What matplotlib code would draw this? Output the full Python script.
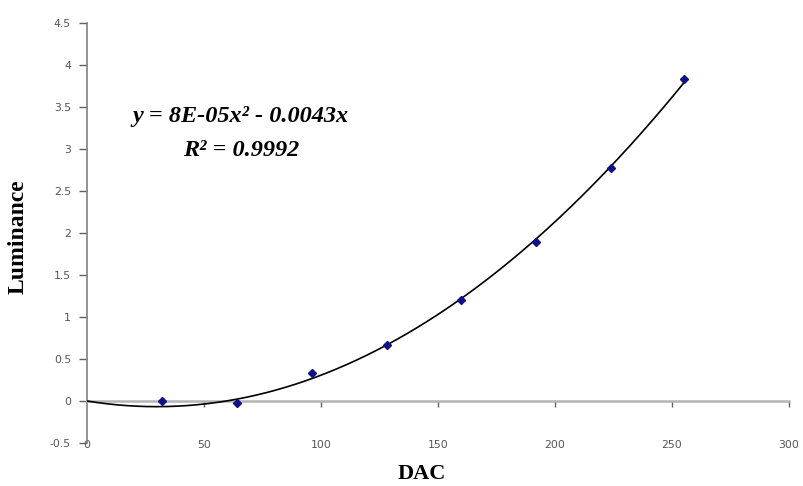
import numpy as np
import matplotlib
matplotlib.use("Agg")
import matplotlib.pyplot as plt
from matplotlib.ticker import FuncFormatter

# measured points (DAC vs luminance)
dac = [32, 64, 96, 128, 160, 192, 224, 255]
luminance = [0.0, -0.02, 0.33, 0.67, 1.2, 1.89, 2.77, 3.83]

x_ticks = [0, 50, 100, 150, 200, 250, 300]
y_ticks = [-0.5, 0, 0.5, 1, 1.5, 2, 2.5, 3, 3.5, 4, 4.5]

eq_text = "y = 8E-05x\u00b2 - 0.0043x"
r2_text = "R\u00b2 = 0.9992"

# 2nd order trendline forced through origin (like the excel one)
xd = np.array(dac, dtype=float)
yd = np.array(luminance, dtype=float)
A = np.vstack([xd**2, xd]).T
coef, *_ = np.linalg.lstsq(A, yd, rcond=None)
xf = np.linspace(0, max(dac), 300)
yf = coef[0] * xf**2 + coef[1] * xf

fig = plt.figure(figsize=(8.04, 4.86), dpi=100)
ax = fig.add_axes([87 / 804, 43 / 486, 702 / 804, 420 / 486])

ax.plot(xf, yf, color="black", lw=1.2, zorder=3)
ax.plot(dac, luminance, "D", color="#10108a", ms=3.6, zorder=4)

ax.set_xlim(0, 300)
ax.set_ylim(-0.5, 4.5)
ax.set_xticks(x_ticks)
ax.set_yticks(y_ticks)
ax.yaxis.set_major_formatter(FuncFormatter(lambda v, p: "%g" % v))

for s in ["top", "right"]:
    ax.spines[s].set_visible(False)
ax.spines["bottom"].set_position(("data", 0))
ax.spines["bottom"].set_color("#b4b4b4")
ax.spines["bottom"].set_linewidth(1.8)
ax.spines["left"].set_color("#808080")
ax.spines["left"].set_linewidth(1.2)

ax.tick_params(axis="x", direction="out", length=4, width=1, color="#606060",
               pad=24, labelsize=7.8, labelcolor="#555555")
ax.tick_params(axis="y", direction="out", length=5.5, width=1, color="#606060",
               pad=6, labelsize=7.8, labelcolor="#555555")
ax.xaxis.get_major_ticks()[0].tick1line.set_visible(False)

fig.text(422 / 804, 1 - 474 / 486, "DAC", ha="center", va="center",
         fontsize=16, fontweight="bold", family="Liberation Serif")
fig.text(18 / 804, 1 - 237 / 486, "Luminance", rotation=90, ha="center", va="center",
         fontsize=17, fontweight="bold", family="Liberation Serif")

ax.text(0.219, 0.778, eq_text, transform=ax.transAxes, ha="center", va="center",
        fontsize=17.5, fontweight="bold", style="italic", family="Liberation Serif")
ax.text(0.219, 0.697, r2_text, transform=ax.transAxes, ha="center", va="center",
        fontsize=17.5, fontweight="bold", style="italic", family="Liberation Serif")

fig.savefig("out.png", dpi=100)
